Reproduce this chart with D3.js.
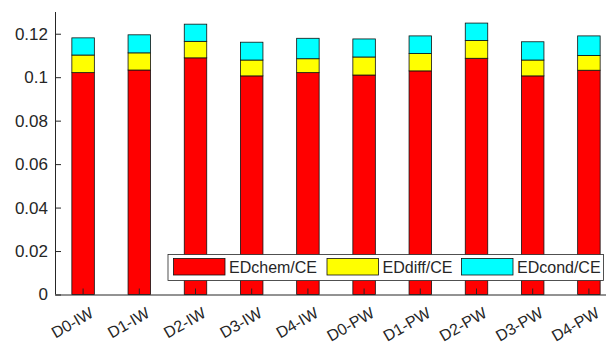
<!DOCTYPE html>
<html>
<head>
<meta charset="utf-8">
<script src="https://cdn.jsdelivr.net/npm/d3@7"></script>
<style>
  body { margin: 0; background: #fff; }
  text { font-family: "Liberation Sans", Arial, sans-serif; fill: #262626; }
</style>
</head>
<body>
<svg width="606" height="344"></svg>
<script>
// categories and stacked series
var categories = ["D0-IW", "D1-IW", "D2-IW", "D3-IW", "D4-IW", "D0-PW", "D1-PW", "D2-PW", "D3-PW", "D4-PW"];
var edChem = [0.1021, 0.1033, 0.1089, 0.1006, 0.1021, 0.1010, 0.1029, 0.1087, 0.1006, 0.1032];
var edDiff = [0.0081, 0.0079, 0.0076, 0.0073, 0.0064, 0.0083, 0.0080, 0.0082, 0.0073, 0.0068];
var edCond = [0.0079, 0.0083, 0.0079, 0.0082, 0.0094, 0.0083, 0.0081, 0.0080, 0.0084, 0.0090];
var seriesNames = ["EDchem/CE", "EDdiff/CE", "EDcond/CE"];
var seriesColors = ["#ff0000", "#ffff00", "#00ffff"];
var yTicks = [0, 0.02, 0.04, 0.06, 0.08, 0.1, 0.12];

var svg = d3.select("svg"),
  width = +svg.attr("width"),
  height = +svg.attr("height");

var x0 = 55, x1 = 617, yTop = 12, yBot = 294.5;

var x = d3.scaleBand()
  .domain(categories)
  .range([x0, x1])
  .paddingInner(0.6)
  .paddingOuter(0.3);

var y = d3.scaleLinear()
  .domain([0, 0.13])
  .range([yBot, yTop]);

// build rows for the stack
var rows = categories.map(function(c, i) {
  return {cat: c, s0: edChem[i], s1: edDiff[i], s2: edCond[i]};
});
var stack = d3.stack().keys(["s0", "s1", "s2"])(rows);

svg.append("g")
  .selectAll("g")
  .data(stack)
  .enter().append("g")
    .attr("fill", function(d, i) { return seriesColors[i]; })
  .selectAll("rect")
  .data(function(d) { return d; })
  .enter().append("rect")
    .attr("x", function(d) { return x(d.data.cat); })
    .attr("width", x.bandwidth())
    .attr("y", function(d) { return y(d[1]); })
    .attr("height", function(d) { return y(d[0]) - y(d[1]); })
    .attr("stroke", "#111")
    .attr("stroke-width", 0.8);

// y axis, ticks inward
var yAxis = svg.append("g")
  .attr("transform", "translate(" + x0 + ",0)")
  .call(d3.axisLeft(y).tickValues(yTicks).tickSizeInner(-6).tickSizeOuter(0).tickPadding(7)
    .tickFormat(function(d) { return d3.format("")(+d.toFixed(2)); }));
yAxis.select(".domain").attr("stroke", "#262626").attr("d", "M0.5," + yTop + "V" + yBot);
yAxis.selectAll(".tick line").attr("stroke", "#262626");
yAxis.selectAll("text").style("font-size", "17px").attr("fill", "#262626").attr("font-family", null);

// x axis, labels tilted 30 degrees
var xAxis = svg.append("g")
  .attr("transform", "translate(0," + yBot + ")")
  .call(d3.axisBottom(x).tickSizeInner(-6).tickSizeOuter(0).tickPadding(0));
xAxis.select(".domain").attr("stroke", "#262626");
xAxis.selectAll(".tick line").attr("stroke", "#262626");
xAxis.selectAll("text")
  .style("font-size", "16px")
  .attr("font-family", null)
  .attr("fill", "#262626")
  .attr("text-anchor", "end")
  .attr("dy", null)
  .attr("y", 0)
  .attr("transform", "translate(6,12) rotate(-30)")
  .attr("dominant-baseline", "hanging");

// legend
var legend = svg.append("g");
legend.append("rect")
  .attr("x", 168).attr("y", 254.5)
  .attr("width", 435.5).attr("height", 26)
  .attr("fill", "#fff").attr("stroke", "#262626").attr("stroke-width", 0.8);

var swatchX = [173.5, 327, 461.5];
seriesNames.forEach(function(name, i) {
  legend.append("rect")
    .attr("x", swatchX[i]).attr("y", 258.5)
    .attr("width", 51.5).attr("height", 16.5)
    .attr("fill", seriesColors[i]).attr("stroke", "#111").attr("stroke-width", 0.8);
  legend.append("text")
    .attr("x", swatchX[i] + 55.5).attr("y", 267)
    .attr("dy", "0.35em")
    .style("font-size", "16px")
    .text(name);
});
</script>
</body>
</html>
